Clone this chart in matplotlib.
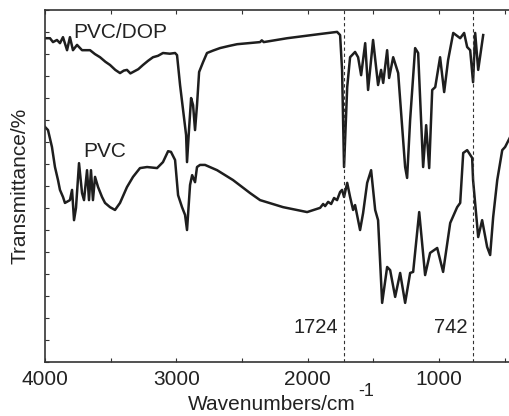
import matplotlib.pyplot as plt
from matplotlib.ticker import MultipleLocator, NullFormatter

plt.rcParams['font.family'] = ['Liberation Sans', 'DejaVu Sans']

# PVC/DOP spectrum (wavenumber, transmittance in arbitrary units)
dop_wn = [4000, 3962, 3939, 3909, 3886, 3863, 3832, 3810, 3787, 3756, 3718, 3657,
          3620, 3581, 3540, 3505, 3465, 3429, 3400, 3376, 3350, 3330, 3290, 3254,
          3215, 3178, 3140, 3102, 3050, 3010, 2995, 2972, 2949,
          2926, 2919, 2904, 2888, 2873, 2858, 2843, 2827, 2797, 2767, 2720, 2668, 2600,
          2538, 2450, 2363, 2350, 2335, 2157, 1906, 1777, 1754, 1739, 1724, 1700, 1678, 1640,
          1617, 1594, 1563, 1541, 1503, 1465, 1442, 1426, 1396, 1381, 1350, 1312,
          1259, 1244, 1221, 1183, 1160, 1122, 1099, 1076, 1053, 1030, 993, 962,
          932, 893, 840, 810, 787, 764, 742, 726, 703, 665]
dop_t = [92.0, 92.0, 90.9, 91.5, 90.6, 92.3, 88.6, 92.3, 88.6, 90.1, 88.6, 88.6,
         87.5, 86.6, 85.3, 84.4, 83.0, 82.1, 82.8, 83.0, 82.0, 82.4, 83.2, 84.4,
         85.6, 86.6, 87.0, 87.8, 87.6, 87.8, 87.2, 78.7, 71.6,
         64.5, 56.8, 65.9, 75.0, 73.0, 65.9, 73.0, 82.4, 85.2, 87.8, 88.5, 89.2, 89.8,
         90.3, 90.6, 90.9, 91.4, 90.9, 92.0, 93.2, 93.8, 92.9, 83.0, 55.4, 78.1, 86.6, 88.1,
         86.6, 81.5, 90.6, 77.3, 91.5, 78.7, 83.0, 79.3, 88.6, 80.7, 86.6, 82.1,
         55.4, 52.3, 68.8, 89.2, 87.8, 55.4, 67.3, 55.1, 77.3, 78.1, 86.6, 76.7,
         85.8, 93.5, 92.0, 93.5, 89.5, 88.6, 79.5, 93.5, 83.0, 92.9]

# PVC spectrum
pvc_wn = [4000, 3977, 3947, 3924, 3901, 3886, 3863, 3848, 3810, 3794, 3779, 3764,
          3741, 3718, 3703, 3680, 3665, 3650, 3635, 3619, 3596, 3566, 3543, 3505,
          3467, 3429, 3376, 3330, 3277, 3223, 3147, 3102, 3063, 3041, 3010, 2987,
          2957, 2934, 2919, 2896, 2880, 2858, 2843, 2820, 2782, 2690, 2569, 2439,
          2363, 2188, 2005, 1906, 1883, 1868, 1845, 1822, 1800, 1777, 1754, 1739,
          1724, 1700, 1678, 1655, 1640, 1602, 1579, 1548, 1518, 1487, 1465, 1434,
          1396, 1373, 1335, 1297, 1259, 1221, 1198, 1152, 1107, 1069, 1015, 970,
          916, 863, 840, 817, 787, 749, 742, 703, 673, 635, 612, 589, 558, 520,
          498, 460, 400]
pvc_t = [66.8, 65.9, 61.1, 55.4, 51.7, 48.9, 46.9, 45.2, 46.0, 48.9, 40.3, 43.8,
         56.5, 48.0, 46.0, 54.5, 46.0, 54.5, 46.0, 52.6, 49.7, 46.9, 45.2, 44.0,
         43.2, 45.2, 49.7, 52.6, 55.1, 55.4, 55.1, 56.8, 59.9, 59.7, 57.4, 47.4,
         44.0, 41.8, 37.5, 50.3, 53.1, 51.1, 55.4, 56.0, 56.0, 54.5, 51.7, 48.0,
         46.0, 44.0, 42.6, 43.8, 44.9, 44.3, 45.5, 44.9, 46.6, 46.0, 48.3, 48.9,
         46.9, 50.9, 46.9, 43.2, 44.6, 37.5, 42.3, 50.9, 54.5, 43.2, 40.3, 16.8,
         27.0, 26.1, 18.5, 25.3, 16.8, 25.3, 25.6, 42.6, 24.7, 31.0, 32.4, 25.6,
         39.5, 44.0, 45.2, 59.4, 60.2, 58.0, 51.7, 35.5, 40.3, 32.7, 30.4, 41.2,
         51.7, 60.2, 61.1, 63.9, 68.8]

marks = [1724, 742]
mark_labels = ['1724', '742']


def main():
    fig = plt.figure(figsize=(5.1, 4.16), dpi=100)
    ax = fig.add_axes([0.0882, 0.1298, 0.9275, 0.846])

    line_color = '#1e1e1e'
    ax.plot(dop_wn, dop_t, color=line_color, lw=1.8, solid_joinstyle='round')
    ax.plot(pvc_wn, pvc_t, color=line_color, lw=1.8, solid_joinstyle='round')

    # dashed reference lines with their labels
    for wn, lab in zip(marks, mark_labels):
        ax.axvline(wn, color='#333333', lw=0.8, ls=(0, (3, 2.5)))
        ax.text(wn + 45, 9.9, lab, ha='right', va='center', fontsize=14.5, color='#222222')

    ax.text(3787, 93.5, 'PVC/DOP', ha='left', va='center', fontsize=15, color='#222222')
    ax.text(3711, 59.7, 'PVC', ha='left', va='center', fontsize=15, color='#222222')

    ax.set_xlim(4000, 400)
    ax.set_ylim(0, 100)
    ax.xaxis.set_major_locator(MultipleLocator(1000))
    ax.xaxis.set_minor_locator(MultipleLocator(500))
    ax.yaxis.set_major_locator(MultipleLocator(6.25))
    ax.yaxis.set_major_formatter(NullFormatter())
    ax.tick_params(axis='both', which='both', direction='in', top=True, right=False,
                   length=3, width=0.8, color='#333333')
    ax.tick_params(axis='x', labelsize=15, pad=6, labelcolor='#222222')
    for s in ax.spines.values():
        s.set_linewidth(1.2)
        s.set_color('#333333')

    # x label with a full-size raised "-1"
    fig.text(272 / 510, 1 - 405 / 416, 'Wavenumbers/cm', ha='center', va='center',
             fontsize=15, color='#222222')
    fig.text(358 / 510, 1 - 392 / 416, '-1', ha='left', va='center',
             fontsize=13, color='#222222')
    ax.set_ylabel('Transmittance/%', fontsize=15, labelpad=8, color='#222222')

    fig.savefig('out.png', dpi=100)


if __name__ == "__main__":
    main()
